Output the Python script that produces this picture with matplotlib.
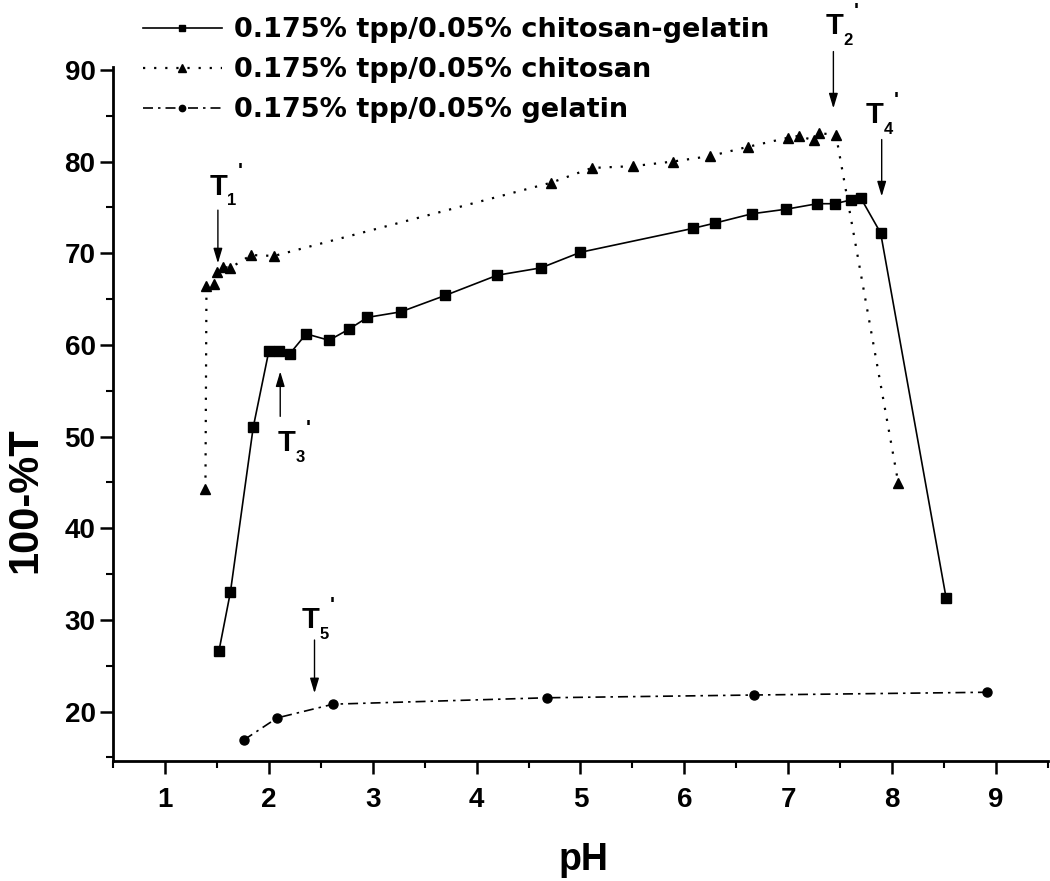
import matplotlib
matplotlib.use("Agg")
import matplotlib.pyplot as plt
from matplotlib.ticker import MultipleLocator

plt.rcParams["font.family"] = "DejaVu Sans"

# ── data ─────────────────────────────────────────────────────────────────────
ph_cs_gel = [1.52, 1.63, 1.85, 2.00, 2.10, 2.20, 2.36, 2.58, 2.77, 2.95, 3.27,
             3.70, 4.20, 4.62, 5.00, 6.08, 6.30, 6.65, 6.98, 7.28, 7.45, 7.60,
             7.70, 7.89, 8.52]
t_cs_gel = [26.6, 33.0, 51.0, 59.3, 59.3, 59.0, 61.2, 60.5, 61.7, 63.0, 63.6,
            65.4, 67.6, 68.4, 70.1, 72.7, 73.3, 74.3, 74.8, 75.4, 75.4, 75.8,
            76.0, 72.2, 32.4]

ph_cs = [1.39, 1.40, 1.47, 1.50, 1.56, 1.63, 1.83, 2.05, 4.72, 5.11, 5.51,
         5.89, 6.25, 6.61, 7.00, 7.10, 7.25, 7.30, 7.46, 8.06]
t_cs = [44.3, 66.4, 66.6, 68.0, 68.5, 68.4, 69.8, 69.7, 77.7, 79.3, 79.5,
        80.0, 80.6, 81.6, 82.6, 82.8, 82.3, 83.1, 82.9, 44.9]

ph_gel = [1.76, 2.08, 2.62, 4.68, 6.67, 8.91]
t_gel = [16.9, 19.3, 20.8, 21.5, 21.8, 22.1]

labels = ["0.175% tpp/0.05% chitosan-gelatin",
          "0.175% tpp/0.05% chitosan",
          "0.175% tpp/0.05% gelatin"]

# transition markers: subscript, "T" anchor (left, baseline), arrow start, arrow end
marks = [
    ("1", (1.43, 76.4), (1.51, 74.7), (1.51, 68.9)),
    ("2", (7.36, 93.9), (7.435, 92.0), (7.435, 85.8)),
    ("3", (2.085, 48.4), (2.11, 52.2), (2.11, 57.1)),
    ("4", (7.75, 84.2), (7.90, 82.4), (7.90, 76.2)),
    ("5", (2.32, 29.1), (2.44, 27.8), (2.44, 22.0)),
]

fig = plt.figure(figsize=(10.5, 8.81), dpi=100)
ax = fig.add_axes([0.1076, 0.1362, 0.8904, 0.7876])

ax.plot(ph_cs_gel, t_cs_gel, color="black", linestyle="-", linewidth=1.2,
        marker="s", markersize=6.5, label=labels[0])
ax.plot(ph_cs, t_cs, color="black", linestyle=(0, (1, 4)), linewidth=1.6,
        marker="^", markersize=7.5, label=labels[1])
ax.plot(ph_gel, t_gel, color="black", linestyle=(0, (6, 3, 1.5, 3)), linewidth=1.2,
        marker="o", markersize=6.5, label=labels[2])

tfont = dict(family="Liberation Sans", fontweight="bold", color="black")
for num, txt_xy, start, end in marks:
    ax.annotate("T", xy=txt_xy, fontsize=21, ha="left", va="baseline",
                annotation_clip=False, **tfont)
    ax.annotate(num, xy=txt_xy, xytext=(16, -4.5), textcoords="offset points",
                fontsize=12, ha="center", va="center", annotation_clip=False, **tfont)
    ax.annotate("'", xy=txt_xy, xytext=(22, 16.5), textcoords="offset points",
                fontsize=15, ha="center", va="center", annotation_clip=False, **tfont)
    ax.annotate("", xy=end, xytext=start, annotation_clip=False,
                arrowprops=dict(arrowstyle="-|>,head_length=0.6,head_width=0.18",
                                color="black", lw=1.0, mutation_scale=15,
                                shrinkA=0, shrinkB=0))

ax.set_xlim(0.5, 9.5)
ax.set_ylim(14.6, 90.3)
ax.xaxis.set_minor_locator(MultipleLocator(0.5))
ax.yaxis.set_minor_locator(MultipleLocator(5))
ax.set_xticks(range(1, 10))
ax.set_yticks(range(20, 91, 10))

for side in ("top", "right"):
    ax.spines[side].set_visible(False)
for side in ("left", "bottom"):
    ax.spines[side].set_linewidth(2.0)

ax.tick_params(which="major", direction="out", length=9.5, width=1.8, labelsize=20)
ax.tick_params(axis="x", which="major", pad=9)
ax.tick_params(axis="y", which="major", pad=3)
ax.tick_params(which="minor", direction="out", length=5, width=1.5)
for lbl in ax.get_xticklabels() + ax.get_yticklabels():
    lbl.set_fontweight("bold")
    lbl.set_family("Liberation Sans")

ax.set_xlabel("pH", fontsize=27, fontweight="bold", family="Liberation Sans",
              va="center")
ax.set_ylabel("100-%T", fontsize=30, fontweight="bold", family="Liberation Sans",
              va="center")
ax.xaxis.set_label_coords(0.503, -0.1427)
ax.yaxis.set_label_coords(-0.094, 0.376)

fig.legend(loc="upper left", bbox_to_anchor=(143 / 1050, 1 - 17 / 881),
           frameon=False, prop={"weight": "bold", "size": 19.5},
           handlelength=2.9, handletextpad=0.45, labelspacing=0.52,
           borderpad=0, borderaxespad=0, markerscale=0.7)

fig.savefig("out.png", dpi=100)
